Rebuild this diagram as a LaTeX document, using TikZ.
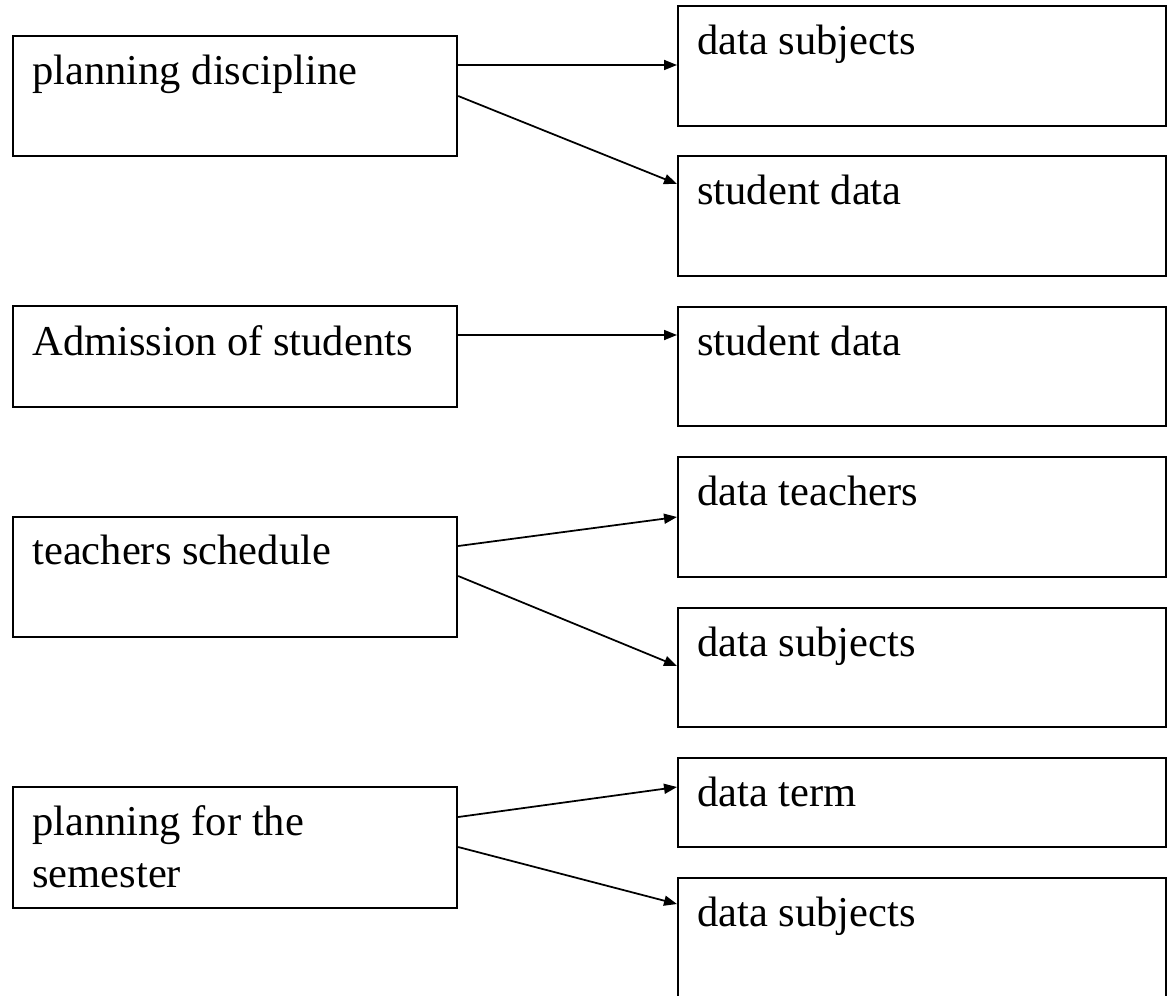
\documentclass[tikz,border=0pt]{standalone}
\usepackage{fontspec}
\setmainfont{Liberation Serif}
\usetikzlibrary{arrows.meta}

\tikzset{
    procbox/.style={draw, line width=0.045cm, anchor=north west, inner sep=0pt,
        minimum width=8.88cm, minimum height=#1},
    databox/.style={draw, line width=0.045cm, anchor=north west, inner sep=0pt,
        minimum width=9.76cm, minimum height=#1},
    boxtext/.style={anchor=base west, inner sep=0pt, align=left,
        font=\fontsize{24.2}{29.6}\selectfont},
    flow/.style={line width=0.035cm, -{Triangle[length=0.26cm, width=0.2cm]}}
}

\begin{document}
\begin{tikzpicture}[x=0.02cm, y=-0.02cm]
        \useasboundingbox (0, 0) rectangle (1168, 995);
        \clip (0, 0) rectangle (1168, 995);

        \node[procbox=2.4cm] (plan) at (12, 35) {};
        \node[procbox=2.02cm] (admit) at (12, 305) {};
        \node[procbox=2.4cm] (sched) at (12, 516) {};
        \node[procbox=2.42cm] (sem) at (12, 786) {};

        \node[databox=2.4cm] (subj1) at (677, 5) {};
        \node[databox=2.4cm] (stud1) at (677, 155) {};
        \node[databox=2.38cm] (stud2) at (677, 306) {};
        \node[databox=2.4cm] (teach) at (677, 456) {};
        \node[databox=2.38cm] (subj2) at (677, 607) {};
        \node[databox=1.78cm] (term) at (677, 757) {};
        \node[databox=2.4cm] (subj3) at (677, 877) {};

        \node[boxtext] (plan text) at ([shift={(20, 49)}]plan.north west) {planning discipline};
        \node[boxtext] (admit text) at ([shift={(20, 50)}]admit.north west) {Admission of students};
        \node[boxtext] (sched text) at ([shift={(20, 48)}]sched.north west) {teachers schedule};
        \node[boxtext] (sem text) at ([shift={(20, 101)}]sem.north west) {planning for the\\semester};

        \node[boxtext] (subj1 text) at ([shift={(20, 49)}]subj1.north west) {data subjects};
        \node[boxtext] (stud1 text) at ([shift={(20, 49)}]stud1.north west) {student data};
        \node[boxtext] (stud2 text) at ([shift={(20, 49)}]stud2.north west) {student data};
        \node[boxtext] (teach text) at ([shift={(20, 49)}]teach.north west) {data teachers};
        \node[boxtext] (subj2 text) at ([shift={(20, 49)}]subj2.north west) {data subjects};
        \node[boxtext] (term text) at ([shift={(20, 49)}]term.north west) {data term};
        \node[boxtext] (subj3 text) at ([shift={(20, 49)}]subj3.north west) {data subjects};

        \draw[flow] ([yshift=-0.6cm]plan.north east) -- ([yshift=-1.2cm]subj1.north west);
        \draw[flow] ([yshift=-1.22cm]plan.north east) -- ([yshift=-0.58cm]stud1.north west);
        \draw[flow] ([yshift=-0.6cm]admit.north east) -- ([yshift=-0.58cm]stud2.north west);
        \draw[flow] ([yshift=-0.6cm]sched.north east) -- ([yshift=-1.22cm]teach.north west);
        \draw[flow] ([yshift=-1.2cm]sched.north east) -- ([yshift=-1.18cm]subj2.north west);
        \draw[flow] ([yshift=-0.62cm]sem.north east) -- ([yshift=-0.6cm]term.north west);
        \draw[flow] ([yshift=-1.22cm]sem.north east) -- ([yshift=-0.54cm]subj3.north west);
\end{tikzpicture}
\end{document}
